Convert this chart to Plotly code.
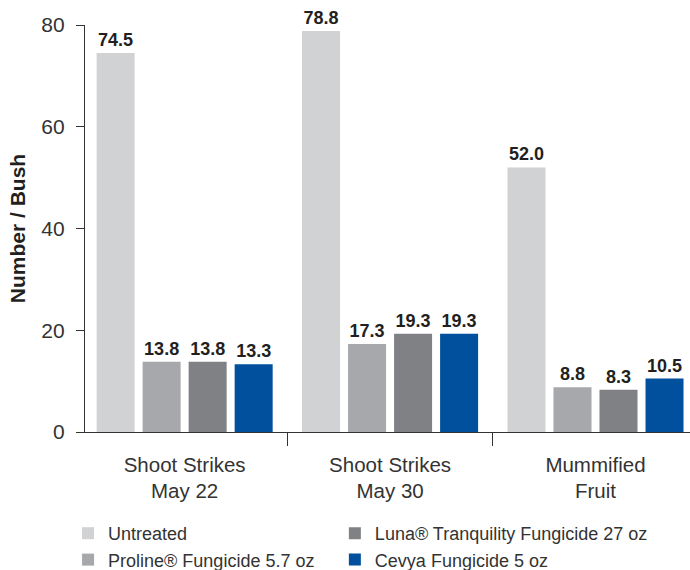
import plotly.graph_objects as go

categories = ["Shoot Strikes<br>May 22", "Shoot Strikes<br>May 30", "Mummified<br>Fruit"]
series_names = ["Untreated", "Proline® Fungicide 5.7 oz",
                "Luna® Tranquility Fungicide 27 oz", "Cevya Fungicide 5 oz"]
untreated = [74.5, 78.8, 52.0]
proline = [13.8, 17.3, 8.8]
luna = [13.8, 19.3, 8.3]
cevya = [13.3, 19.3, 10.5]
colors = ["#d1d2d4", "#a7a8ab", "#808184", "#00509e"]
legend_groups = ["legend", "legend", "legend2", "legend2"]
y_ticks = [0, 20, 40, 60, 80]

FONT = "Liberation Sans, Arial, Helvetica, sans-serif"
xpos = list(range(len(categories)))

fig = go.Figure()
for name, vals, col, lg in zip(series_names, [untreated, proline, luna, cevya], colors, legend_groups):
    fig.add_trace(go.Bar(
        x=xpos, y=vals, name=name, marker=dict(color=col, line=dict(width=0)),
        text=[f"{v:.1f}" for v in vals], textposition="outside",
        textfont=dict(family=FONT, size=18, color="#231f20", weight="bold"),
        cliponaxis=False, legend=lg,
    ))

leg_common = dict(orientation="v", xanchor="left", yref="container", y=0.0965, yanchor="top",
                  font=dict(family=FONT, size=18, color="#333333"),
                  itemsizing="constant", tracegroupgap=0, traceorder="normal",
                  bgcolor="rgba(0,0,0,0)")
fig.update_layout(
    width=690, height=570,
    margin=dict(l=85, r=0, t=25, b=138),
    plot_bgcolor="white", paper_bgcolor="white",
    barmode="group", bargap=0.104, bargroupgap=0.174,
    font=dict(family=FONT, size=18, color="#333333"),
    showlegend=True,
    legend=dict(x=-0.028, **leg_common),
    legend2=dict(x=0.413, **leg_common),
)
fig.update_xaxes(
    range=[-0.485, 2.46], tickmode="array", tickvals=xpos, ticktext=categories,
    ticks="", showline=True, linecolor="#333333", linewidth=1.2,
    showgrid=False, zeroline=False, ticklabelstandoff=14,
    tickfont=dict(family=FONT, size=20.5, color="#333333"),
    minor=dict(tick0=0.5, dtick=1, ticks="outside", ticklen=13, tickwidth=1.2,
               tickcolor="#333333", showgrid=False),
)
fig.update_yaxes(
    range=[0, 80], tickmode="array", tickvals=y_ticks,
    ticks="outside", ticklen=8, tickwidth=1.2, tickcolor="#333333",
    showline=True, linecolor="#333333", linewidth=1.2,
    showgrid=False, zeroline=False, ticklabelstandoff=7,
    tickfont=dict(family=FONT, size=21, color="#333333"),
    title=dict(text="<b>Number / Bush</b>", font=dict(family=FONT, size=21, color="#231f20"),
               standoff=9),
)
fig.write_html("out.html", config={"displayModeBar": False},
               post_script="document.body.style.margin='0';")
